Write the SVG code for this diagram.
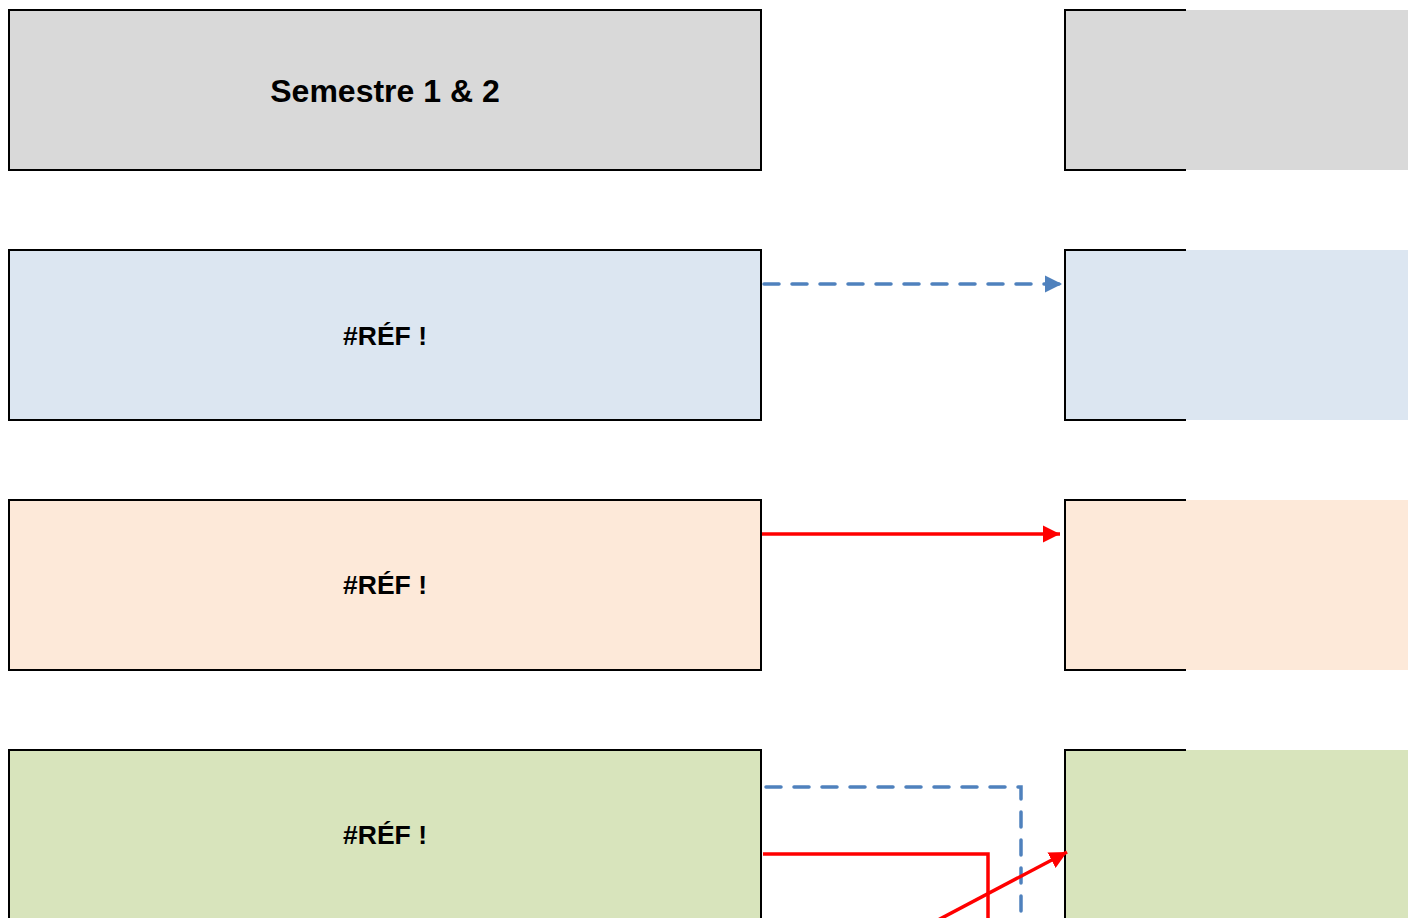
<svg xmlns="http://www.w3.org/2000/svg" width="1408" height="918" viewBox="0 0 1408 918">
<style>
.box{stroke:#000;stroke-width:2}
.edge{fill:none;stroke:#000;stroke-width:2}
.t1{font-family:"Liberation Sans",Arial,sans-serif;font-weight:bold;font-size:32px;text-anchor:middle}
.t2{font-family:"Liberation Sans",Arial,sans-serif;font-weight:bold;font-size:26.5px;text-anchor:middle}
.blue{fill:none;stroke:#4f81bd;stroke-width:3.5;stroke-dasharray:15 13;stroke-linecap:round}
.red{fill:none;stroke:#ff0000;stroke-width:3.5}
</style>
<defs>
<marker id="ab" viewBox="0 0 10 10" refX="10" refY="5" markerWidth="5" markerHeight="5" markerUnits="strokeWidth" orient="auto"><path d="M0,0L10,5L0,10z" fill="#4f81bd"/></marker>
<marker id="ar" viewBox="0 0 10 10" refX="10" refY="5" markerWidth="5" markerHeight="5" markerUnits="strokeWidth" orient="auto"><path d="M0,0L10,5L0,10z" fill="#ff0000"/></marker>
</defs>
<rect width="1408" height="918" fill="#fff"/>
<g id="left1"><rect class="box" x="9" y="10" width="752" height="160" fill="#d9d9d9"/><text class="t1" x="385" y="102">Semestre 1 &amp; 2</text></g>
<g id="left2"><rect class="box" x="9" y="250" width="752" height="170" fill="#dce6f1"/><text class="t2" x="385" y="345">#RÉF !</text></g>
<g id="left3"><rect class="box" x="9" y="500" width="752" height="170" fill="#fde9d9"/><text class="t2" x="385" y="594">#RÉF !</text></g>
<g id="left4"><rect class="box" x="9" y="750" width="752" height="180" fill="#d8e4bc"/><text class="t2" x="385" y="844">#RÉF !</text></g>
<g id="right1"><rect x="1065" y="10" width="343" height="160" fill="#d9d9d9"/><path class="edge" d="M1186,10H1065V170H1186"/></g>
<g id="right2"><rect x="1065" y="250" width="343" height="170" fill="#dce6f1"/><path class="edge" d="M1186,250H1065V420H1186"/></g>
<g id="right3"><rect x="1065" y="500" width="343" height="170" fill="#fde9d9"/><path class="edge" d="M1186,500H1065V670H1186"/></g>
<g id="right4"><rect x="1065" y="750" width="343" height="180" fill="#d8e4bc"/><path class="edge" d="M1186,750H1065V930"/></g>
<g id="connectors">
<path class="blue" d="M764,284H1062" marker-end="url(#ab)"/>
<path class="red" d="M762,534H1060" marker-end="url(#ar)"/>
<path class="blue" d="M766,787H1021V920"/>
<path class="red" d="M763,854H988V920"/>
<path class="red" d="M938,920L1067,852" marker-end="url(#ar)"/>
</g>
</svg>
